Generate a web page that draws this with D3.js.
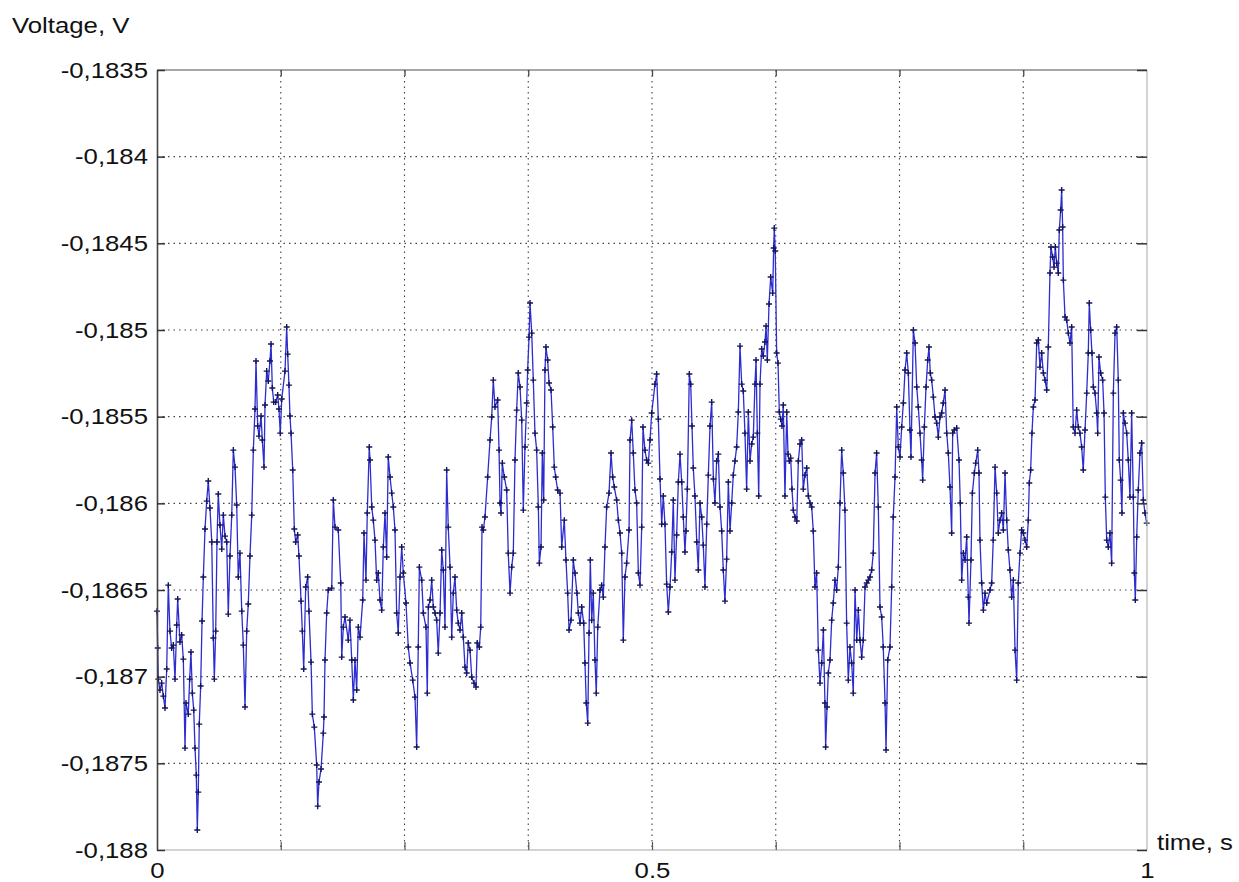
<!DOCTYPE html>
<html><head><meta charset="utf-8">
<script src="https://cdn.jsdelivr.net/npm/d3@7"></script>
<style>body{margin:0;background:#fff}svg{display:block}</style>
</head><body><svg id="c" width="1239" height="882"></svg>
<script>
const time=[
0.0000,0.0007,0.0013,0.0030,0.0047,0.0064,0.0081,0.0098,0.0114,0.0131,
0.0148,0.0165,0.0182,0.0199,0.0209,0.0232,0.0249,0.0266,0.0283,0.0293,
0.0316,0.0330,0.0343,0.0357,0.0371,0.0384,0.0397,0.0407,0.0417,0.0427,
0.0441,0.0455,0.0468,0.0485,0.0502,0.0518,0.0535,0.0553,0.0569,0.0579,
0.0593,0.0606,0.0619,0.0636,0.0654,0.0670,0.0687,0.0704,0.0720,0.0737,
0.0755,0.0771,0.0788,0.0805,0.0821,0.0838,0.0856,0.0872,0.0889,0.0906,
0.0922,0.0939,0.0957,0.0973,0.0990,0.1000,0.1017,0.1030,0.1051,0.1064,
0.1081,0.1091,0.1108,0.1124,0.1141,0.1152,0.1165,0.1179,0.1199,0.1219,
0.1232,0.1245,0.1260,0.1293,0.1310,0.1320,0.1333,0.1343,0.1354,0.1371,
0.1387,0.1401,0.1421,0.1434,0.1455,0.1468,0.1482,0.1502,0.1522,0.1535,
0.1556,0.1569,0.1589,0.1613,0.1623,0.1636,0.1657,0.1680,0.1687,0.1697,
0.1714,0.1730,0.1765,0.1781,0.1798,0.1831,0.1856,0.1866,0.1882,0.1899,
0.1932,0.1949,0.1967,0.1983,0.2000,0.2017,0.2033,0.2051,0.2078,0.2091,
0.2111,0.2124,0.2144,0.2152,0.2169,0.2185,0.2202,0.2219,0.2235,0.2253,
0.2270,0.2286,0.2303,0.2320,0.2336,0.2354,0.2371,0.2387,0.2404,0.2421,
0.2437,0.2455,0.2472,0.2488,0.2515,0.2538,0.2556,0.2583,0.2606,0.2623,
0.2639,0.2650,0.2674,0.2690,0.2717,0.2730,0.2741,0.2758,0.2775,0.2791,
0.2808,0.2825,0.2841,0.2859,0.2876,0.2892,0.2909,0.2926,0.2942,0.2960,
0.2977,0.2993,0.3010,0.3027,0.3043,0.3061,0.3078,0.3094,0.3111,0.3128,
0.3144,0.3162,0.3179,0.3202,0.3222,0.3235,0.3256,0.3270,0.3283,0.3296,
0.3313,0.3340,0.3364,0.3381,0.3397,0.3414,0.3441,0.3455,0.3465,0.3475,
0.3488,0.3508,0.3532,0.3548,0.3566,0.3583,0.3599,0.3616,0.3633,0.3649,
0.3667,0.3684,0.3700,0.3717,0.3734,0.3744,0.3758,0.3768,0.3785,0.3801,
0.3818,0.3835,0.3852,0.3862,0.3879,0.3892,0.3906,0.3919,0.3929,0.3946,
0.3960,0.3980,0.3997,0.4013,0.4027,0.4047,0.4071,0.4088,0.4114,0.4131,
0.4148,0.4162,0.4182,0.4205,0.4222,0.4242,0.4256,0.4273,0.4290,0.4310,
0.4323,0.4336,0.4351,0.4364,0.4377,0.4391,0.4407,0.4424,0.4437,0.4452,
0.4475,0.4492,0.4508,0.4525,0.4542,0.4566,0.4586,0.4603,0.4619,0.4643,
0.4660,0.4677,0.4694,0.4710,0.4727,0.4744,0.4768,0.4778,0.4795,0.4811,
0.4828,0.4845,0.4862,0.4879,0.4896,0.4909,0.4929,0.4946,0.4963,0.4980,
0.4997,0.5030,0.5047,0.5064,0.5081,0.5098,0.5114,0.5131,0.5148,0.5165,
0.5182,0.5199,0.5215,0.5232,0.5249,0.5266,0.5283,0.5300,0.5316,0.5333,
0.5343,0.5357,0.5377,0.5391,0.5404,0.5417,0.5434,0.5452,0.5468,0.5485,
0.5502,0.5518,0.5535,0.5553,0.5569,0.5586,0.5603,0.5620,0.5636,0.5653,
0.5670,0.5687,0.5704,0.5720,0.5737,0.5754,0.5771,0.5788,0.5805,0.5821,
0.5838,0.5855,0.5872,0.5889,0.5906,0.5922,0.5939,0.5956,0.5973,0.5990,
0.6007,0.6023,0.6040,0.6051,0.6064,0.6078,0.6091,0.6108,0.6124,0.6141,
0.6152,0.6165,0.6182,0.6199,0.6219,0.6229,0.6235,0.6245,0.6259,0.6273,
0.6286,0.6300,0.6313,0.6326,0.6343,0.6361,0.6374,0.6387,0.6401,0.6414,
0.6427,0.6444,0.6462,0.6478,0.6495,0.6512,0.6528,0.6545,0.6563,0.6579,
0.6596,0.6613,0.6629,0.6646,0.6663,0.6680,0.6697,0.6714,0.6731,0.6747,
0.6754,0.6768,0.6781,0.6798,0.6815,0.6831,0.6848,0.6865,0.6882,0.6899,
0.6916,0.6932,0.6949,0.6966,0.6983,0.7000,0.7017,0.7033,0.7051,0.7068,
0.7084,0.7101,0.7118,0.7134,0.7152,0.7169,0.7185,0.7202,0.7219,0.7235,
0.7253,0.7269,0.7286,0.7303,0.7320,0.7336,0.7354,0.7364,0.7381,0.7404,
0.7421,0.7437,0.7455,0.7472,0.7488,0.7505,0.7522,0.7539,0.7556,0.7573,
0.7589,0.7606,0.7616,0.7640,0.7657,0.7674,0.7690,0.7707,0.7724,0.7734,
0.7751,0.7768,0.7785,0.7798,0.7811,0.7825,0.7842,0.7859,0.7876,0.7892,
0.7909,0.7926,0.7942,0.7960,0.7977,0.7993,0.8010,0.8027,0.8037,0.8053,
0.8078,0.8101,0.8114,0.8128,0.8145,0.8162,0.8179,0.8195,0.8202,0.8222,
0.8236,0.8256,0.8270,0.8290,0.8303,0.8313,0.8330,0.8347,0.8364,0.8381,
0.8414,0.8431,0.8447,0.8465,0.8482,0.8498,0.8515,0.8532,0.8549,0.8566,
0.8583,0.8599,0.8616,0.8633,0.8650,0.8667,0.8684,0.8700,0.8717,0.8734,
0.8751,0.8768,0.8785,0.8801,0.8811,0.8825,0.8838,0.8852,0.8869,0.8886,
0.8902,0.8919,0.8936,0.8953,0.8970,0.8987,0.9003,0.9020,0.9030,0.9047,
0.9061,0.9074,0.9088,0.9104,0.9114,0.9128,0.9138,0.9148,0.9155,0.9172,
0.9189,0.9205,0.9222,0.9239,0.9255,0.9273,0.9290,0.9306,0.9323,0.9340,
0.9356,0.9374,0.9391,0.9407,0.9417,0.9431,0.9444,0.9458,0.9475,0.9492,
0.9502,0.9515,0.9532,0.9552,0.9566,0.9579,0.9593,0.9609,0.9626,0.9643,
0.9660,0.9677,0.9694,0.9710,0.9720,0.9734,0.9747,0.9761,0.9778,0.9795,
0.9811,0.9828,0.9845,0.9862,0.9872,0.9882,0.9896,0.9912,0.9929,0.9946,
0.9963,0.9980,0.9997];

const voltage=[
-0.186622,-0.186835,-0.187014,-0.187077,-0.187037,-0.187112,-0.187181,-0.186956,-0.186472,-0.186737,
-0.186835,-0.186818,-0.187014,-0.186702,-0.186552,-0.186800,-0.186760,-0.186899,-0.187412,-0.187152,
-0.187216,-0.187014,-0.186858,-0.187095,-0.187193,-0.187412,-0.187568,-0.187885,-0.187666,-0.187274,
-0.187054,-0.186679,-0.186425,-0.186148,-0.185987,-0.185871,-0.186027,-0.186223,-0.186777,-0.187014,
-0.186737,-0.186223,-0.185946,-0.186125,-0.186264,-0.186068,-0.186189,-0.186223,-0.186639,-0.186304,
-0.186068,-0.185693,-0.185791,-0.186010,-0.186425,-0.186287,-0.186622,-0.186818,-0.187175,-0.186737,
-0.186581,-0.186304,-0.186068,-0.185693,-0.185456,-0.185179,-0.185554,-0.185612,-0.185496,-0.185635,
-0.185791,-0.185433,-0.185237,-0.185294,-0.185179,-0.185081,-0.185335,-0.185416,-0.185416,-0.185375,
-0.185456,-0.185595,-0.185398,-0.185237,-0.184983,-0.185139,-0.185318,-0.185496,-0.185595,-0.185808,
-0.186148,-0.186223,-0.186183,-0.186304,-0.186564,-0.186737,-0.186956,-0.186483,-0.186425,-0.186622,
-0.186916,-0.187216,-0.187291,-0.187510,-0.187747,-0.187608,-0.187533,-0.187326,-0.187233,-0.186904,
-0.186633,-0.186500,-0.186489,-0.185981,-0.186137,-0.186154,-0.186460,-0.186887,-0.186714,-0.186656,
-0.186789,-0.186674,-0.186904,-0.187135,-0.186904,-0.187077,-0.186714,-0.186772,-0.186558,-0.186171,
-0.186443,-0.186056,-0.185675,-0.185750,-0.186021,-0.186097,-0.186212,-0.186443,-0.186402,-0.186558,
-0.186616,-0.186252,-0.186056,-0.186310,-0.185733,-0.185848,-0.185941,-0.186021,-0.186154,-0.186633,
-0.186748,-0.186425,-0.186252,-0.186402,-0.186575,-0.186829,-0.186921,-0.187020,-0.187118,-0.187406,
-0.186829,-0.186368,-0.186443,-0.186633,-0.186714,-0.187095,-0.186598,-0.186558,-0.186443,-0.186598,
-0.186633,-0.186674,-0.186864,-0.186633,-0.186269,-0.186385,-0.186714,-0.185808,-0.186137,-0.186368,
-0.186772,-0.186518,-0.186425,-0.186616,-0.186691,-0.186731,-0.186633,-0.186772,-0.186945,-0.186979,
-0.186806,-0.186847,-0.187002,-0.187037,-0.187060,-0.186806,-0.186829,-0.186714,-0.186137,-0.186154,
-0.186079,-0.185848,-0.185635,-0.185502,-0.185289,-0.185444,-0.185404,-0.185693,-0.185998,-0.186056,
-0.185768,-0.185848,-0.185923,-0.186287,-0.186518,-0.186368,-0.186287,-0.185750,-0.185462,-0.185248,
-0.185329,-0.185520,-0.186039,-0.185675,-0.185421,-0.185231,-0.185041,-0.184844,-0.185018,-0.185289,
-0.185595,-0.185693,-0.186021,-0.186345,-0.186252,-0.185710,-0.185981,-0.185231,-0.185098,-0.185173,
-0.185306,-0.185346,-0.185560,-0.185791,-0.185848,-0.185923,-0.185941,-0.186252,-0.186097,-0.186327,
-0.186518,-0.186731,-0.186674,-0.186327,-0.186402,-0.186518,-0.186633,-0.186691,-0.186598,-0.186691,
-0.186921,-0.187152,-0.187268,-0.186748,-0.186327,-0.186674,-0.186518,-0.186904,-0.187095,-0.186714,
-0.186500,-0.186472,-0.186541,-0.186252,-0.186021,-0.185941,-0.185710,-0.185848,-0.185906,-0.185981,
-0.186097,-0.186171,-0.186287,-0.186789,-0.186425,-0.186345,-0.186154,-0.185635,-0.185520,-0.185710,
-0.185923,-0.185998,-0.186402,-0.186472,-0.186137,-0.185560,-0.185693,-0.185750,-0.185768,-0.185635,
-0.185479,-0.185312,-0.185254,-0.185514,-0.185860,-0.186120,-0.185958,-0.186120,-0.186466,-0.186627,
-0.186483,-0.186281,-0.185981,-0.186443,-0.186183,-0.185877,-0.185716,-0.185877,-0.186079,-0.186281,
-0.186160,-0.185918,-0.185254,-0.185312,-0.185554,-0.185796,-0.185958,-0.186223,-0.186385,-0.185998,
-0.186079,-0.186241,-0.186483,-0.186120,-0.185837,-0.185554,-0.185416,-0.185860,-0.185998,-0.185756,
-0.185716,-0.186021,-0.186160,-0.186385,-0.186564,-0.186322,-0.185877,-0.186160,-0.185998,-0.185837,
-0.185756,-0.185675,-0.185473,-0.185093,-0.185312,-0.185352,-0.185595,-0.185918,-0.185473,-0.185756,
-0.185658,-0.185618,-0.185312,-0.185173,-0.185595,-0.185958,-0.185312,-0.185110,-0.185150,-0.185069,
-0.184977,-0.185173,-0.184850,-0.184694,-0.184787,-0.184527,-0.184412,-0.184544,-0.185133,-0.185191,
-0.185473,-0.185514,-0.185554,-0.185433,-0.185958,-0.185473,-0.185716,-0.185756,-0.185739,-0.185918,
-0.186039,-0.186079,-0.186102,-0.185756,-0.185658,-0.185635,-0.185918,-0.185837,-0.185796,-0.185958,
-0.185998,-0.186021,-0.186160,-0.186483,-0.186402,-0.186847,-0.187037,-0.186921,-0.186731,-0.187152,
-0.187406,-0.187175,-0.186979,-0.186904,-0.186674,-0.186575,-0.186443,-0.186500,-0.186368,-0.185998,
-0.185693,-0.185825,-0.186039,-0.186691,-0.187020,-0.186829,-0.186921,-0.187095,-0.186500,-0.186789,
-0.186616,-0.186789,-0.186887,-0.186789,-0.186483,-0.186460,-0.186443,-0.186425,-0.186385,-0.186287,
-0.185825,-0.185710,-0.186021,-0.186598,-0.186656,-0.186829,-0.187152,-0.187423,-0.186904,-0.186829,
-0.186483,-0.186079,-0.185848,-0.185444,-0.185675,-0.185733,-0.185560,-0.185421,-0.185231,-0.185133,
-0.185248,-0.185577,-0.185733,-0.185000,-0.185075,-0.185329,-0.185444,-0.185595,-0.185750,-0.185866,
-0.185560,-0.185329,-0.185173,-0.185098,-0.185248,-0.185289,-0.185387,-0.185502,-0.185537,-0.185618,
-0.185502,-0.185479,-0.185421,-0.185346,-0.185595,-0.185710,-0.185906,-0.186171,-0.185595,-0.185577,
-0.185566,-0.185750,-0.185998,-0.186443,-0.186287,-0.186327,-0.186194,-0.186541,-0.186691,-0.186327,
-0.185941,-0.185825,-0.185768,-0.185693,-0.185825,-0.186212,-0.186460,-0.186616,-0.186518,-0.186575,
-0.186500,-0.186460,-0.186212,-0.185791,-0.185941,-0.186171,-0.186097,-0.186056,-0.186154,-0.185825,
-0.186097,-0.186269,-0.186385,-0.186541,-0.186443,-0.186847,-0.187020,-0.186460,-0.186287,-0.186154,
-0.186171,-0.186212,-0.186252,-0.186097,-0.185883,-0.185808,-0.185595,-0.185444,-0.185404,-0.185075,
-0.185058,-0.185214,-0.185133,-0.185248,-0.185289,-0.185346,-0.185098,-0.184671,-0.184521,-0.184579,
-0.184637,-0.184521,-0.184614,-0.184671,-0.184423,-0.184308,-0.184192,-0.184406,-0.184712,-0.184925,
-0.184943,-0.185018,-0.185075,-0.184983,-0.185560,-0.185595,-0.185462,-0.185560,-0.185595,-0.185675,
-0.185808,-0.185577,-0.185364,-0.185133,-0.184844,-0.185000,-0.185133,-0.185329,-0.185364,-0.185479,
-0.185595,-0.185156,-0.185248,-0.185289,-0.185479,-0.185964,-0.186212,-0.186252,-0.186171,-0.186345,
-0.185364,-0.185018,-0.184983,-0.185289,-0.185750,-0.185866,-0.186056,-0.185479,-0.185537,-0.185595,
-0.185750,-0.185964,-0.185479,-0.185964,-0.186402,-0.186558,-0.186194,-0.185923,-0.185710,-0.185652,
-0.185981,-0.186056,-0.186114];

const yTicks=[-0.1835,-0.184,-0.1845,-0.185,-0.1855,-0.186,-0.1865,-0.187,-0.1875,-0.188];
const yTickLabels=["-0,1835","-0,184","-0,1845","-0,185","-0,1855","-0,186","-0,1865","-0,187","-0,1875","-0,188"];
const xTicks=[0,0.5,1];
const xTickLabels=["0","0.5","1"];
const xGrid=[0.125,0.25,0.375,0.5,0.625,0.75,0.875];
const yTitle="Voltage, V";
const xTitle="time, s";

const svg=d3.select("#c");
const L=157,T=70,R=1147,B=850;
const x=d3.scaleLinear().domain([0,1]).range([L,R]);
const y=d3.scaleLinear().domain([-0.188,-0.1835]).range([B,T]);
const FONT="'Liberation Sans', Arial, sans-serif";

svg.append("rect").attr("width",1239).attr("height",882).attr("fill","#fff");

// grid
const grid=svg.append("g");
grid.selectAll("line.h").data(yTicks.slice(1,-1)).join("line")
  .attr("x1",L).attr("x2",R).attr("y1",d=>y(d)).attr("y2",d=>y(d))
  .attr("stroke","#444").attr("stroke-width",1.1).attr("stroke-dasharray","1.5,4");
grid.selectAll("line.v").data(xGrid).join("line")
  .attr("y1",T).attr("y2",B).attr("x1",d=>x(d)).attr("x2",d=>x(d))
  .attr("stroke","#444").attr("stroke-width",1.1).attr("stroke-dasharray","1.5,4");

// data
const pts=d3.zip(time,voltage);
svg.append("path").datum(pts)
  .attr("d",d3.line().x(d=>x(d[0])).y(d=>y(d[1])))
  .attr("fill","none").attr("stroke","#2c2cd0").attr("stroke-width",1.3);
svg.append("g").selectAll("path").data(pts).join("path")
  .attr("d",d=>{const px=x(d[0]),py=y(d[1]);return `M${px-3},${py}H${px+3}M${px},${py-3}V${py+3}`;})
  .attr("stroke","#14145e").attr("stroke-width",1.4).attr("fill","none");

// frame
svg.append("line").attr("x1",L).attr("x2",R).attr("y1",T).attr("y2",T).attr("stroke","#8a8a8a").attr("stroke-width",1.5);
svg.append("line").attr("x1",R).attr("x2",R).attr("y1",T).attr("y2",B).attr("stroke","#b8b8b8").attr("stroke-width",1.2);
svg.append("line").attr("x1",L).attr("x2",R).attr("y1",B).attr("y2",B).attr("stroke","#a8a8a8").attr("stroke-width",1.2);

// axes
const ax=d3.axisLeft(y).tickValues(yTicks).tickFormat((d,i)=>yTickLabels[i]).tickSizeInner(-8).tickSizeOuter(0).tickPadding(9);
const gy=svg.append("g").attr("transform",`translate(${L},0)`).call(ax);
gy.select(".domain").attr("stroke","#444").attr("stroke-width",1.6);
gy.selectAll(".tick line").attr("stroke","#333").attr("stroke-width",1.5);

const axr=d3.axisRight(y).tickValues(yTicks).tickFormat("").tickSizeInner(-10).tickSizeOuter(0);
const gr=svg.append("g").attr("transform",`translate(${R},0)`).call(axr);
gr.select(".domain").remove();
gr.selectAll(".tick line").attr("stroke","#333").attr("stroke-width",1.5);

const axt=d3.axisTop(x).tickValues(xGrid).tickFormat("").tickSizeInner(-6).tickSizeOuter(0);
const gt=svg.append("g").attr("transform",`translate(0,${T})`).call(axt);
gt.select(".domain").remove();
gt.selectAll(".tick line").attr("stroke","#444").attr("stroke-width",1.3);

const axb=d3.axisBottom(x).tickValues(xGrid).tickFormat("").tickSizeInner(-8).tickSizeOuter(0);
const gb=svg.append("g").attr("transform",`translate(0,${B})`).call(axb);
gb.select(".domain").remove();
gb.selectAll(".tick line").attr("stroke","#555").attr("stroke-width",1.2);

const axl=d3.axisBottom(x).tickValues(xTicks).tickFormat((d,i)=>xTickLabels[i]).tickSize(0).tickPadding(12);
const gl=svg.append("g").attr("transform",`translate(0,${B})`).call(axl);
gl.select(".domain").remove();

svg.selectAll(".tick text").attr("font-family",FONT).attr("font-size",22).attr("fill","#111");

svg.append("text").attr("class","ttl").attr("x",12).attr("y",33).text(yTitle);
svg.append("text").attr("class","ttl").attr("x",1157).attr("y",850).text(xTitle);
svg.selectAll("text.ttl").attr("font-family",FONT).attr("font-size",22).attr("fill","#111");

// horizontal stretch of text to match reference proportions
svg.selectAll("text").each(function(){
  const w=this.getComputedTextLength();
  if(w>0) d3.select(this).attr("textLength",w*1.17).attr("lengthAdjust","spacingAndGlyphs");
});
</script></body></html>
